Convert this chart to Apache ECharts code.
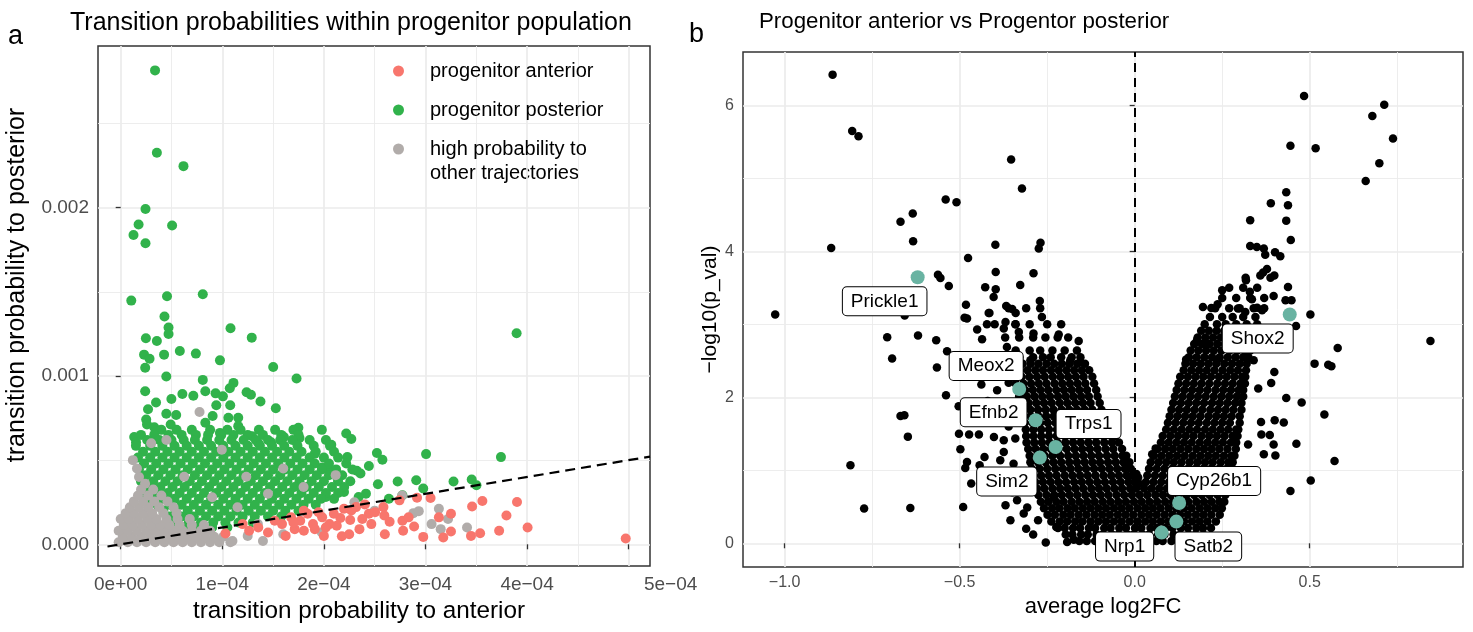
<!DOCTYPE html>
<html><head><meta charset="utf-8">
<script src="https://cdn.jsdelivr.net/npm/echarts@6/dist/echarts.min.js"></script>
<style>html,body{margin:0;padding:0;background:#fff}#c{width:1473px;height:632px}</style>
</head><body><div id="c"></div>
<script>
// ---------- Panel a data (x in units of 1e-4, y in units of 1e-3) ----------
const legendNames = ['progenitor anterior', 'progenitor posterior', 'high probability to other trajectories'];
const xTicksA = [0, 1e-4, 2e-4, 3e-4, 4e-4, 5e-4];
const yTicksA = [0, 0.001, 0.002];
const refLineA = [[-0.13, -0.013], [5.21, 0.521]];

const anteriorPts = [[4.971,0.034],[4.005,0.100],[3.901,0.251],[3.797,0.171],[3.725,0.080],[3.560,0.257],[3.459,0.225],[3.538,0.066],[3.448,0.050],[3.251,0.181],[3.251,0.076],[3.175,0.040],[3.050,0.275],[2.917,0.277],[2.978,0.044],[2.888,0.106],[2.780,0.080],[2.773,0.140],[2.834,0.160],[2.744,0.261],[2.647,0.134],[2.586,0.221],[2.467,0.120],[2.443,0.181],[2.403,0.237],[2.317,0.221],[2.259,0.144],[2.249,0.060],[2.177,0.048],[2.162,0.156],[2.098,0.181],[2.055,0.120],[1.983,0.160],[1.893,0.120],[1.839,0.181],[1.803,0.080],[1.767,0.140],[1.713,0.090],[1.677,0.160],[1.624,0.050],[1.588,0.120],[1.516,0.140],[1.354,0.100],[1.264,0.080],[1.031,0.064],[2.270,0.201],[2.504,0.191],[2.595,0.171],[2.378,0.150],[2.198,0.211],[1.911,0.090],[2.019,0.100],[2.127,0.110],[1.803,0.200],[1.947,0.190],[3.132,0.160],[1.45,0.07],[1.70,0.13],[2.35,0.09],[2.60,0.06],[2.00,0.05],[1.20,0.12]];

const posteriorSparse = [[0.338,2.816],[0.356,2.327],[0.618,2.247],[0.244,1.992],[0.176,1.900],[0.506,1.894],[0.126,1.838],[0.244,1.789],[0.104,1.448],[0.456,1.474],[0.808,1.486],[0.431,1.354],[0.471,1.288],[0.471,1.250],[1.081,1.284],[1.290,1.228],[3.897,1.254],[0.248,1.224],[0.356,1.208],[0.427,1.127],[0.582,1.149],[0.740,1.133],[0.230,1.127],[0.284,1.103],[0.241,1.049],[0.977,1.093],[0.449,0.997],[1.501,1.053],[1.731,0.985],[0.808,0.977],[0.241,0.909],[1.110,0.959],[1.074,0.927],[1.239,0.903],[1.282,0.889],[1.376,0.849],[1.527,0.808],[0.833,0.909],[0.934,0.897],[1.006,0.879],[0.607,0.893],[0.715,0.883],[0.499,0.863],[0.348,0.843],[0.269,0.802],[0.941,0.826],[1.078,0.826],[0.449,0.776],[0.546,0.768],[0.251,0.742],[0.492,0.712],[0.259,0.712],[0.330,0.696],[0.905,0.762],[1.060,0.752],[1.157,0.752],[0.833,0.722],[0.977,0.662],[1.157,0.702],[0.133,0.638],[0.151,0.606],[1.749,0.692],[1.760,0.632],[1.606,0.638],[2.220,0.658],[2.270,0.626],[2.073,0.592],[1.293,0.642],[1.354,0.602],[1.480,0.606],[2.522,0.542],[2.576,0.502],[3.006,0.536],[3.743,0.518],[2.231,0.518],[2.443,0.465],[2.324,0.437],[2.360,0.421],[2.532,0.357],[2.726,0.373],[2.909,0.381],[2.978,0.331],[3.276,0.373],[3.455,0.385],[3.502,0.351],[2.640,0.271],[2.414,0.301],[2.342,0.281],[2.773,0.291],[1.911,0.538],[1.983,0.457],[2.037,0.451],[2.127,0.401],[2.198,0.311],[2.019,0.281]];
// dense part of the posterior cloud: [y, x, x, ...]
const posteriorRows = [
[0.68,0.40,0.55,0.70,0.88,1.05,1.18,1.36,1.52,1.70,1.98],
[0.65,0.20,0.33,0.47,0.60,0.74,0.86,0.99,1.11,1.25,1.40,1.58,1.75],
[0.62,0.26,0.38,0.50,0.62,0.73,0.85,0.97,1.09,1.21,1.33,1.45,1.57,1.69,1.86,2.02],
[0.585,0.15,0.29,0.41,0.53,0.65,0.77,0.89,1.01,1.13,1.25,1.37,1.49,1.61,1.74,1.90,2.06],
[0.55,0.22,0.34,0.46,0.58,0.70,0.82,0.94,1.06,1.18,1.30,1.42,1.54,1.66,1.78,1.92,2.10],
[0.515,0.17,0.29,0.41,0.53,0.65,0.77,0.89,1.01,1.13,1.25,1.37,1.49,1.61,1.73,1.86,2.00,2.14],
[0.48,0.23,0.35,0.47,0.59,0.71,0.83,0.95,1.07,1.19,1.31,1.43,1.55,1.67,1.79,1.91,2.05,2.22],
[0.445,0.18,0.30,0.42,0.54,0.66,0.78,0.90,1.02,1.14,1.26,1.38,1.50,1.62,1.74,1.86,1.98,2.12,2.28],
[0.41,0.25,0.37,0.49,0.61,0.73,0.85,0.97,1.09,1.21,1.33,1.45,1.57,1.69,1.81,1.93,2.05,2.18],
[0.375,0.20,0.32,0.44,0.56,0.68,0.80,0.92,1.04,1.16,1.28,1.40,1.52,1.64,1.76,1.88,2.00,2.14,2.26],
[0.34,0.27,0.39,0.51,0.63,0.75,0.87,0.99,1.11,1.23,1.35,1.47,1.59,1.71,1.83,1.95,2.08,2.20],
[0.305,0.22,0.34,0.46,0.58,0.70,0.82,0.94,1.06,1.18,1.30,1.42,1.54,1.66,1.78,1.90,2.02,2.14],
[0.27,0.29,0.41,0.53,0.65,0.77,0.89,1.01,1.13,1.25,1.37,1.49,1.61,1.73,1.85,1.97,2.10],
[0.235,0.36,0.48,0.60,0.72,0.84,0.96,1.08,1.20,1.32,1.44,1.56,1.68,1.80,1.92],
[0.20,0.42,0.54,0.66,0.78,0.90,1.02,1.14,1.26,1.38,1.50,1.62,1.75],
[0.165,0.48,0.60,0.72,0.84,0.96,1.08,1.20,1.32,1.45,1.58],
[0.13,0.55,0.67,0.79,0.91,1.03,1.16,1.30],
[0.10,0.62,0.76,0.90,1.05]];

const otherSparse = [[0.30,0.60],[0.776,0.786],[0.995,0.562],[0.625,0.401],[1.236,0.401],[2.116,0.411],[1.60,0.45],[1.45,0.30],[1.80,0.34],[0.90,0.28],[1.15,0.22],[1.35,0.12],[1.60,0.06],[1.98,0.07],[1.10,0.02],[2.30,0.25],[2.50,0.20],[2.881,0.185],[2.934,0.197],[3.132,0.211],[3.222,0.150],[3.06,0.12],[3.15,0.09],[3.409,0.10],[2.77,0.29],[1.25,0.05],[1.40,0.02],[0.45,0.62],[0.18,0.40],[0.12,0.50],[0.16,0.45]];
const otherRows = [
[0.012,-0.02,0.07,0.16,0.25,0.34,0.43,0.52,0.61,0.70,0.79,0.88,0.97,1.08],
[0.045,0.02,0.11,0.20,0.29,0.38,0.47,0.56,0.65,0.74,0.83,0.92,1.01],
[0.08,-0.02,0.07,0.16,0.25,0.34,0.43,0.52,0.61,0.70,0.79,0.88],
[0.115,0.03,0.12,0.21,0.30,0.39,0.48,0.58,0.70,0.82],
[0.15,0.00,0.08,0.17,0.26,0.35,0.45,0.56,0.68],
[0.185,0.05,0.13,0.22,0.31,0.42,0.55],
[0.22,0.09,0.18,0.27,0.38,0.52],
[0.255,0.13,0.22,0.33,0.46],
[0.29,0.17,0.27,0.40],
[0.325,0.20,0.32],
[0.36,0.24]];

// ---------- Panel b data (avg log2FC, -log10 p) ----------
const xTicksB = [-1, -0.5, 0, 0.5];
const yTicksB = [0, 2, 4, 6];
const geneNames = ['Prickle1','Meox2','Efnb2','Trps1','Sim2','Nrp1','Satb2','Cyp26b1','Shox2'];
const geneX = [-0.620,-0.330,-0.283,-0.226,-0.271,0.077,0.119,0.127,0.443];
const geneY = [3.644,2.114,1.685,1.319,1.174,0.146,0.297,0.552,3.133];
const geneLabelOffsets = [[-33,24],[-33,-23],[-42,-8],[33,-23],[-33,24],[-37,14],[32,25],[35,-22],[-32,24]];

const volcanoSparse = [[-0.863,6.42],[-0.807,5.648],[-0.789,5.575],[-0.353,5.256],[-0.322,4.859],[-0.540,4.708],[-0.509,4.671],[-0.634,4.516],[-0.669,4.406],[-0.867,4.045],[-0.633,4.137],[-0.398,4.091],[-0.269,4.118],[-0.274,4.037],[-0.476,3.909],[-0.562,3.680],[-0.555,3.635],[-0.531,3.525],[-0.397,3.717],[-0.289,3.699],[-0.427,3.507],[-0.397,3.479],[-0.403,3.374],[-0.327,3.539],[-0.482,3.269],[-0.415,3.155],[-0.367,3.251],[-0.350,3.210],[-0.340,3.155],[-0.271,3.319],[-0.265,3.100],[-1.027,3.133],[-0.657,3.119],[-0.486,3.091],
[0.484,6.128],[0.713,6.009],[0.679,5.853],[0.738,5.544],[0.445,5.447],[0.517,5.411],[0.699,5.205],[0.660,4.964],[0.433,4.808],[0.389,4.658],[0.438,4.630],[0.330,4.425],[0.433,4.420],[0.446,4.155],[0.330,4.073],[0.349,4.059],[0.369,4.037],[0.373,3.954],[0.401,3.986],[0.416,3.932],[0.378,3.758],[0.367,3.708],[0.359,3.667],[0.388,3.639],[0.399,3.667],[0.317,3.639],[0.318,3.603],[0.438,3.511],[0.250,3.466],[0.329,3.447],[0.397,3.388],[0.335,3.342],[0.431,3.329],[0.448,3.329],[0.237,3.274],[0.195,3.237],[0.219,3.224],[0.295,3.215],[0.316,3.169],[0.350,3.228],[0.364,3.192],[0.502,3.133],
[0.845,2.771],[0.580,2.676],[0.514,2.461],[0.553,2.447],[0.562,2.425],[0.461,2.977],[0.178,2.781],[0.205,2.721],[0.147,2.516],[0.235,2.507],[0.340,2.507],[0.399,2.347],[0.390,2.196],[0.353,2.119],[0.433,1.991],[0.477,1.927],[0.542,1.763],[0.361,1.662],[0.400,1.685],[0.426,1.653],[0.362,1.489],[0.386,1.484],[0.397,1.352],[0.462,1.365],[0.324,1.352],[0.369,1.219],[0.402,1.201],[0.571,1.127],[0.503,0.859],[0.445,0.717],[0.005,0.95],[0.012,0.82],[0.05,1.22],[0.06,1.30],[0.01,0.90],
[-0.707,2.822],[-0.619,2.845],[-0.567,2.781],[-0.693,2.530],[-0.565,2.407],[-0.536,2.630],[-0.539,2.027],[-0.503,1.877],[-0.438,2.174],[-0.669,1.744],[-0.658,1.753],[-0.648,1.461],[-0.812,1.068],[-0.773,0.475],[-0.641,0.484],[-0.490,0.498],[-0.502,1.502],[-0.473,1.489],[-0.445,1.489],[-0.498,1.288],[-0.429,1.182],[-0.479,1.114],[-0.484,1.032],[-0.443,1.068],[-0.467,0.818],[-0.369,0.521],[-0.355,0.315],[-0.307,0.489],[-0.276,0.315],[-0.254,0.010],[-0.224,0.223],[-0.479,3.078],[-0.417,3.155],[-0.450,2.927],[-0.422,3.000],[-0.436,2.795],[-0.374,2.941],[-0.369,3.032],[-0.341,3.000],[-0.331,2.895],[-0.289,2.873],[-0.217,2.859],[-0.160,2.771],[-0.184,2.507],[-0.155,2.484],[-0.365,2.689],[-0.298,2.507],[-0.393,2.096],[-0.402,1.456],[-0.374,1.411],[-0.341,1.434],[-0.374,1.251],[-0.384,1.137],[-0.346,1.091],[-0.336,0.589],[-0.317,0.407],[-0.231,0.634],[-0.193,0.018],[-0.174,0.050],
[-0.41,2.35],[-0.38,2.45],[-0.36,2.20],[-0.42,1.95],[-0.35,1.80],[-0.40,1.70],[-0.36,1.60],[-0.35,0.70],[-0.33,0.80],[-0.31,0.20],[-0.29,0.12],[-0.36,0.95]];
// dense core of the volcano: [y, x, x, ...]
const volcanoRows = [
[0.03,-0.158,-0.137,-0.113,-0.095,-0.07,-0.052,-0.026,-0.008,0.017,0.036,0.062,0.08,0.105,0.124,0.149,0.168],
[0.12,-0.197,-0.178,-0.153,-0.134,-0.109,-0.091,-0.065,-0.046,-0.021,-0.003,0.022,0.041,0.067,0.085,0.111,0.13,0.154,0.174,0.196],
[0.21,-0.219,-0.2,-0.176,-0.156,-0.131,-0.113,-0.087,-0.069,-0.044,-0.025,0.001,0.019,0.045,0.063,0.088,0.108,0.132,0.152,0.176,0.195,0.218],
[0.30,-0.238,-0.214,-0.193,-0.17,-0.149,-0.126,-0.104,-0.082,-0.059,-0.037,-0.014,0.008,0.03,0.052,0.075,0.097,0.119,0.141,0.164,0.186,0.208,0.232],
[0.39,-0.249,-0.228,-0.204,-0.183,-0.16,-0.138,-0.115,-0.093,-0.071,-0.048,-0.026,-0.004,0.019,0.041,0.063,0.086,0.108,0.13,0.152,0.175,0.197,0.219,0.243],
[0.48,-0.259,-0.236,-0.215,-0.192,-0.171,-0.148,-0.126,-0.104,-0.082,-0.059,-0.037,-0.015,0.008,0.03,0.052,0.074,0.097,0.119,0.141,0.163,0.186,0.208,0.23,0.249],
[0.57,-0.268,-0.247,-0.224,-0.203,-0.18,-0.158,-0.136,-0.114,-0.091,-0.069,-0.047,-0.025,-0.002,0.02,0.042,0.064,0.087,0.109,0.131,0.153,0.176,0.198,0.22,0.242,0.256],
[0.66,-0.275,-0.252,-0.23,-0.208,-0.186,-0.164,-0.141,-0.119,-0.097,-0.075,-0.052,-0.03,-0.008,0.014,0.036,0.059,0.081,0.103,0.125,0.148,0.17,0.192,0.214,0.237,0.259],
[0.75,-0.279,-0.258,-0.235,-0.213,-0.191,-0.169,-0.147,-0.124,-0.102,-0.08,-0.058,-0.036,-0.013,0.004,0.027,0.048,0.07,0.092,0.114,0.137,0.159,0.181,0.203,0.226,0.248,0.264],
[0.84,-0.284,-0.262,-0.24,-0.218,-0.196,-0.173,-0.151,-0.129,-0.107,-0.085,-0.062,-0.04,-0.018,0.0,0.032,0.054,0.076,0.098,0.12,0.143,0.165,0.187,0.209,0.232,0.254,0.27],
[0.93,-0.289,-0.267,-0.245,-0.223,-0.2,-0.178,-0.156,-0.134,-0.112,-0.089,-0.067,-0.045,-0.023,-0.006,0.036,0.058,0.08,0.102,0.124,0.147,0.169,0.191,0.213,0.236,0.258,0.274],
[1.02,-0.294,-0.272,-0.25,-0.227,-0.205,-0.183,-0.161,-0.139,-0.116,-0.094,-0.072,-0.05,-0.028,-0.011,0.041,0.063,0.085,0.107,0.129,0.152,0.174,0.196,0.218,0.241,0.263,0.279],
[1.11,-0.298,-0.276,-0.254,-0.232,-0.21,-0.187,-0.165,-0.143,-0.121,-0.099,-0.076,-0.054,-0.032,-0.015,0.046,0.068,0.09,0.112,0.134,0.157,0.179,0.201,0.223,0.246,0.268,0.28],
[1.20,-0.3,-0.279,-0.257,-0.235,-0.213,-0.19,-0.168,-0.146,-0.124,-0.102,-0.079,-0.057,-0.035,-0.024,0.055,0.077,0.099,0.121,0.143,0.166,0.188,0.21,0.232,0.255,0.277,0.285],
[1.29,-0.304,-0.283,-0.261,-0.239,-0.217,-0.194,-0.172,-0.15,-0.128,-0.106,-0.083,-0.061,-0.036,0.065,0.087,0.109,0.131,0.153,0.176,0.198,0.22,0.242,0.265,0.289],
[1.38,-0.309,-0.287,-0.265,-0.243,-0.221,-0.198,-0.176,-0.154,-0.132,-0.11,-0.087,-0.065,-0.045,0.075,0.097,0.119,0.141,0.163,0.186,0.208,0.23,0.252,0.275,0.29],
[1.47,-0.31,-0.289,-0.267,-0.245,-0.223,-0.2,-0.178,-0.156,-0.134,-0.112,-0.089,-0.067,-0.055,0.08,0.102,0.124,0.146,0.168,0.191,0.213,0.235,0.257,0.28,0.294],
[1.56,-0.311,-0.289,-0.267,-0.245,-0.222,-0.2,-0.178,-0.156,-0.134,-0.111,-0.089,-0.066,0.09,0.112,0.134,0.156,0.178,0.201,0.223,0.245,0.267,0.29,0.296],
[1.65,-0.314,-0.292,-0.27,-0.248,-0.226,-0.203,-0.181,-0.159,-0.137,-0.115,-0.092,-0.075,0.095,0.117,0.139,0.161,0.183,0.206,0.228,0.25,0.272,0.3],
[1.74,-0.319,-0.297,-0.275,-0.253,-0.231,-0.208,-0.186,-0.164,-0.142,-0.12,-0.097,-0.085,0.1,0.122,0.144,0.166,0.188,0.211,0.233,0.255,0.277,0.3],
[1.83,-0.32,-0.298,-0.276,-0.254,-0.232,-0.209,-0.187,-0.165,-0.143,-0.121,-0.095,0.105,0.127,0.149,0.171,0.193,0.216,0.238,0.26,0.282,0.305],
[1.92,-0.325,-0.303,-0.281,-0.259,-0.237,-0.214,-0.192,-0.17,-0.148,-0.126,-0.1,0.11,0.132,0.154,0.176,0.198,0.221,0.243,0.265,0.287,0.305],
[2.01,-0.33,-0.308,-0.286,-0.264,-0.242,-0.219,-0.197,-0.175,-0.153,-0.131,-0.106,0.115,0.137,0.159,0.181,0.203,0.226,0.248,0.27,0.292,0.31],
[2.10,-0.335,-0.313,-0.291,-0.269,-0.247,-0.224,-0.202,-0.18,-0.158,-0.136,-0.11,0.12,0.142,0.164,0.186,0.208,0.231,0.253,0.275,0.297,0.31],
[2.19,-0.34,-0.318,-0.296,-0.274,-0.252,-0.229,-0.207,-0.185,-0.163,-0.141,-0.116,0.125,0.147,0.169,0.191,0.213,0.236,0.258,0.28,0.302,0.315],
[2.28,-0.345,-0.323,-0.301,-0.279,-0.257,-0.234,-0.212,-0.19,-0.168,-0.146,-0.121,0.13,0.152,0.174,0.196,0.218,0.241,0.263,0.285,0.307,0.316],
[2.37,-0.35,-0.328,-0.306,-0.284,-0.262,-0.239,-0.217,-0.195,-0.173,-0.151,-0.13,0.14,0.162,0.184,0.206,0.228,0.251,0.273,0.295,0.318],
[2.46,-0.345,-0.32,-0.297,-0.275,-0.252,-0.23,-0.208,-0.186,-0.164,-0.142,0.145,0.167,0.189,0.211,0.233,0.256,0.278,0.3,0.32],
[2.55,-0.36,-0.33,-0.29,-0.262,-0.24,-0.21,-0.18,-0.155,0.155,0.177,0.199,0.221,0.243,0.266,0.288,0.31,0.325],
[2.64,-0.34,-0.3,-0.27,-0.235,-0.2,-0.165,0.16,0.182,0.204,0.226,0.248,0.271,0.293,0.315,0.33],
[2.73,0.17,0.192,0.214,0.236,0.258,0.281,0.303,0.325,0.335],
[2.82,-0.37,-0.33,-0.29,-0.255,-0.22,-0.19,0.18,0.202,0.224,0.246,0.268,0.291,0.313,0.34],
[2.91,0.19,0.212,0.234,0.256,0.278,0.301,0.323,0.345],
[3.00,-0.40,-0.34,-0.30,-0.25,-0.21,0.20,0.235,0.26,0.29,0.32,0.35],
[3.10,0.215,0.25,0.28,0.31,0.345],
[3.22,-0.36,-0.31,-0.27,0.23,0.27,0.30,0.34,0.37],
[3.36,0.25,0.29,0.33,0.37],
[3.50,0.27,0.31,0.35]];

// ---------- build ----------
const FONT = '"Liberation Sans", Arial, Helvetica, sans-serif';
const MINUS = '\u2212';
const scaleA = p => [p[0] * 1e-4, p[1] * 1e-3];
const rowsToPts = rows => { const out = []; rows.forEach(r => { for (let i = 1; i < r.length; i++) out.push([r[i], r[0]]); }); return out; };
const dataAnterior = anteriorPts.map(scaleA);
const dataPosterior = posteriorSparse.concat(rowsToPts(posteriorRows)).map(scaleA);
const dataOther = rowsToPts(otherRows).concat(otherSparse).map(scaleA);
const dataRef = refLineA.map(scaleA);
const dataVolcano = volcanoSparse.concat(rowsToPts(volcanoRows));
const dataGenes = geneNames.map((n, i) => ({ name: n, value: [geneX[i], geneY[i]] }));

function sci(v) {
  if (Math.abs(v) < 1e-15) return '0e+00';
  const e = Math.floor(Math.log10(Math.abs(v)) + 1e-9);
  const m = Math.round(v / Math.pow(10, e));
  return m + 'e' + (e < 0 ? MINUS : '+') + String(Math.abs(e)).padStart(2, '0');
}
// the last label of panel a sits to the right of the panel in the original figure
const sciA = v => (Math.abs(v - xTicksA[xTicksA.length - 1]) < 1e-12 ? '{shift|' + sci(v) + '}' : sci(v));
const signed1 = v => (v < 0 ? MINUS : '') + Math.abs(v).toFixed(1);

const GRID_LINE = '#EBEBEB';
const TICK = { show: true, length: 5, lineStyle: { color: '#333333', width: 1.3 } };
function axisCommon(gridIndex) {
  return {
    gridIndex, type: 'value',
    axisLine: { show: false },
    splitLine: { show: true, lineStyle: { color: GRID_LINE, width: 1.7 } },
    minorTick: { show: false, splitNumber: 2 },
    minorSplitLine: { show: true, lineStyle: { color: GRID_LINE, width: 0.9 } },
  };
}

const option = {
  animation: false,
  backgroundColor: '#fff',
  textStyle: { fontFamily: FONT },
  title: [
    { text: 'Transition probabilities within progenitor population', left: 70, top: 11, padding: 0,
      textStyle: { fontSize: 25, fontWeight: 'normal', color: '#000', fontFamily: FONT } },
    { text: 'Progenitor anterior vs Progentor posterior', left: 759, top: 11, padding: 0,
      textStyle: { fontSize: 22.3, fontWeight: 'normal', color: '#000', fontFamily: FONT } }
  ],
  grid: [
    { left: 98, top: 46, width: 552, height: 520, show: true, borderColor: '#333333', borderWidth: 1.5, backgroundColor: 'transparent' },
    { left: 743, top: 52, width: 720, height: 515, show: true, borderColor: '#333333', borderWidth: 1.5, backgroundColor: 'transparent' }
  ],
  xAxis: [
    Object.assign(axisCommon(0), {
      min: -2.234e-5, max: 5.21e-4, splitNumber: 5,
      axisTick: Object.assign({ customValues: xTicksA }, TICK),
      axisLabel: { customValues: xTicksA, formatter: sciA, color: '#4D4D4D', fontSize: 19, margin: 9, fontFamily: FONT,
        rich: { shift: { color: '#4D4D4D', fontSize: 19, fontFamily: FONT, padding: [0, 0, 0, 84] } } },
      name: 'transition probability to anterior', nameLocation: 'middle', nameGap: 28,
      nameTextStyle: { fontSize: 24.3, color: '#000', padding: [0, 30, 0, 0], fontFamily: FONT }
    }),
    Object.assign(axisCommon(1), {
      min: -1.119, max: 0.938, splitNumber: 4,
      axisTick: Object.assign({ customValues: xTicksB }, TICK),
      axisLabel: { customValues: xTicksB, formatter: signed1, color: '#4D4D4D', fontSize: 16, margin: 8, fontFamily: FONT },
      name: 'average log2FC', nameLocation: 'middle', nameGap: 26,
      nameTextStyle: { fontSize: 22, color: '#000', fontFamily: FONT }
    })
  ],
  yAxis: [
    Object.assign(axisCommon(0), {
      min: -1.29e-4, max: 2.961e-3, splitNumber: 3,
      axisTick: Object.assign({ customValues: yTicksA }, TICK),
      axisLabel: { customValues: yTicksA, formatter: v => v.toFixed(3), color: '#4D4D4D', fontSize: 19, margin: 9, fontFamily: FONT },
      name: 'transition probability to posterior', nameLocation: 'middle', nameGap: 68,
      nameTextStyle: { fontSize: 25, color: '#000', padding: [0, 0, 0, 42], fontFamily: FONT }
    }),
    Object.assign(axisCommon(1), {
      min: -0.325, max: 6.73, splitNumber: 4,
      axisTick: Object.assign({ customValues: yTicksB }, TICK),
      axisLabel: { customValues: yTicksB, formatter: v => String(v), color: '#4D4D4D', fontSize: 16, margin: 9, fontFamily: FONT },
      name: '\u2212log10(p_val)', nameLocation: 'middle', nameGap: 21,
      nameTextStyle: { fontSize: 21, color: '#000', fontFamily: FONT }
    })
  ],
  legend: {
    orient: 'vertical', left: 393, top: 60, padding: 0, itemWidth: 11, itemHeight: 11, itemGap: 17,
    icon: 'circle', selectedMode: false,
    data: legendNames,
    formatter: n => (n === legendNames[2] ? 'high probability to' : n),
    textStyle: { fontSize: 20, color: '#000', lineHeight: 22, padding: [0, 0, 0, 21], fontFamily: FONT }
  },
  graphic: [
    { type: 'text', left: 430, top: 163, style: { text: 'other trajectories', fill: '#000', font: '20px ' + FONT } },
    { type: 'text', left: 8, top: 23, style: { text: 'a', fill: '#000', font: '27px ' + FONT } },
    { type: 'text', left: 689, top: 21, style: { text: 'b', fill: '#000', font: '27px ' + FONT } }
  ],
  series: [
    { name: legendNames[1], type: 'scatter', xAxisIndex: 0, yAxisIndex: 0, symbolSize: 10,
      itemStyle: { color: '#31B24B', opacity: 1 }, data: dataPosterior, z: 2 },
    { name: legendNames[2], type: 'scatter', xAxisIndex: 0, yAxisIndex: 0, symbolSize: 10,
      itemStyle: { color: '#B1ACAA', opacity: 1 }, data: dataOther, z: 3 },
    { name: legendNames[0], type: 'scatter', xAxisIndex: 0, yAxisIndex: 0, symbolSize: 10,
      itemStyle: { color: '#F8766D', opacity: 1 }, data: dataAnterior, z: 4 },
    { name: 'y = x', type: 'line', xAxisIndex: 0, yAxisIndex: 0, data: dataRef, symbol: 'none', silent: true,
      lineStyle: { color: '#000', width: 2.2, type: [10, 6] }, z: 6, clip: true },
    { name: 'genes', type: 'scatter', xAxisIndex: 1, yAxisIndex: 1, symbolSize: 8.5,
      itemStyle: { color: '#000', opacity: 1 }, data: dataVolcano, z: 2,
      markLine: { silent: true, symbol: 'none', label: { show: false },
        lineStyle: { color: '#000', width: 2, type: [9, 6], opacity: 1 }, data: [{ xAxis: 0 }] } },
    { name: 'highlight', type: 'scatter', xAxisIndex: 1, yAxisIndex: 1, symbolSize: 14,
      itemStyle: { color: '#69B3A2', opacity: 1 }, data: dataGenes, z: 5,
      label: { show: true, position: 'inside', formatter: p => p.name, color: '#000', fontSize: 19, fontFamily: FONT,
        backgroundColor: '#fff', borderColor: '#000', borderWidth: 1, borderRadius: 4, padding: [5, 8, 4, 8] },
      labelLayout: p => ({ dx: geneLabelOffsets[p.dataIndex][0], dy: geneLabelOffsets[p.dataIndex][1], hideOverlap: false }) }
  ]
};
const chart = echarts.init(document.getElementById('c'), null, { renderer: 'canvas' });
chart.setOption(option);
</script></body></html>
